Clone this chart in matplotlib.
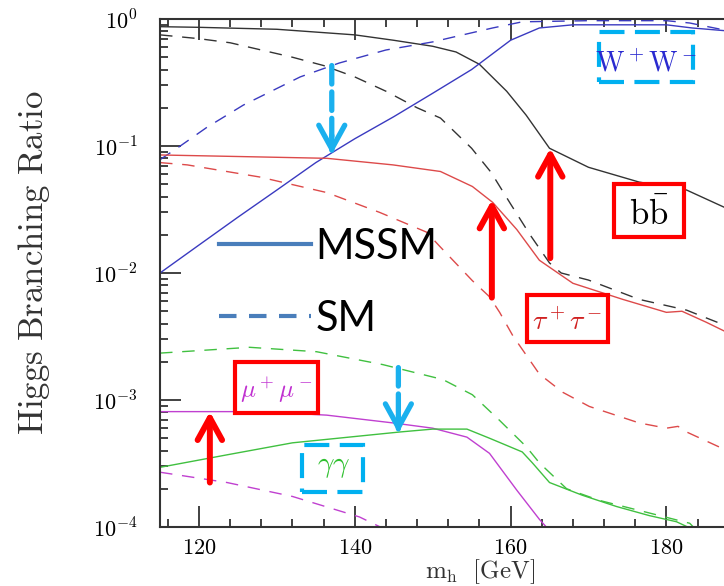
import matplotlib
matplotlib.use("Agg")
import matplotlib.pyplot as plt
from matplotlib.lines import Line2D
from matplotlib.patches import Rectangle
from matplotlib.ticker import MultipleLocator, LogLocator, FuncFormatter, NullFormatter
import numpy as np

plt.rcParams['mathtext.fontset'] = 'cm'

# Higgs mass points [GeV] and branching ratios
m_bb_mssm = [115, 120, 130, 140, 145, 150, 153, 156, 159.5, 162, 165, 170, 176.5, 182.6, 187.4]
br_bb_mssm = [0.87, 0.86, 0.83, 0.75, 0.68, 0.61, 0.55, 0.44, 0.27, 0.175, 0.096, 0.068, 0.052, 0.045, 0.033]

m_bb_sm = [115, 120, 124, 128, 132, 136, 140, 144, 148, 151, 155, 157.5, 160, 162.5, 165, 166.5, 170, 176.5, 182.6, 187.4]
br_bb_sm = [0.75, 0.70, 0.65, 0.57, 0.50, 0.43, 0.35, 0.27, 0.20, 0.166, 0.096, 0.062, 0.035, 0.020, 0.012, 0.010,
            0.0088, 0.0062, 0.0051, 0.0039]

m_ww_mssm = [115, 120, 125, 130, 135, 140, 145, 150, 155, 158, 160, 163.7, 168, 175, 180, 183.3, 187.4]
br_ww_mssm = [0.010, 0.0166, 0.0275, 0.045, 0.074, 0.114, 0.17, 0.26, 0.40, 0.55, 0.68, 0.85, 0.90, 0.90, 0.90,
              0.85, 0.81]

m_ww_sm = [115, 117.6, 121, 125.7, 133, 138, 144, 150, 152.2, 157.7, 161.5, 170, 180, 183, 187.4]
br_ww_sm = [0.078, 0.10, 0.14, 0.21, 0.35, 0.45, 0.57, 0.66, 0.71, 0.85, 0.95, 0.97, 0.97, 0.93, 0.82]

m_tau_mssm = [115, 127.8, 136.4, 144.9, 151, 155.1, 157.7, 160.8, 163.7, 168, 174.4, 180, 182, 185.1, 187.4]
br_tau_mssm = [0.085, 0.082, 0.080, 0.071, 0.063, 0.048, 0.036, 0.022, 0.0126, 0.0083, 0.0062, 0.0049, 0.0050,
               0.0041, 0.0035]

m_tau_sm = [115, 118.5, 127.8, 136.4, 143.2, 149.2, 151, 155.1, 157.3, 158.6, 160.3, 163.7, 166.7, 170.1, 176.5,
            180, 181.5, 182.6, 187.4]
br_tau_sm = [0.074, 0.071, 0.057, 0.043, 0.030, 0.021, 0.016, 0.0087, 0.0065, 0.0049, 0.0032, 0.0016, 0.00115,
             0.00089, 0.00066, 0.0006, 0.00062, 0.00056, 0.00041]

m_mu_mssm = [115, 128, 136.4, 144.9, 150, 154.4, 157.3, 160.8, 163.7, 166]
br_mu_mssm = [0.00081, 0.00081, 0.00076, 0.00066, 0.0006, 0.00051, 0.00038, 0.000195, 0.000115, 0.00008]

m_mu_sm = [115, 123.6, 132, 140.6, 145]
br_mu_sm = [0.00027, 0.000224, 0.000174, 0.00012, 0.000089]

m_gam_mssm = [115, 123.6, 132, 140.6, 145.8, 150, 154.4, 157.3, 161.5, 162.8, 165, 169.2, 173.6, 177.8, 181.3, 184.5]
br_gam_mssm = [0.000295, 0.00037, 0.00046, 0.00052, 0.00056, 0.00059, 0.00059, 0.0005, 0.00039, 0.00032, 0.000224,
               0.000178, 0.000145, 0.000123, 0.00011, 0.000089]

m_gam_sm = [115, 126.5, 135.1, 143.6, 151.3, 155.1, 158.6, 162, 163.7, 167.2, 171.4, 177.8, 183, 185]
br_gam_sm = [0.00234, 0.0026, 0.0024, 0.0019, 0.00145, 0.0011, 0.00069, 0.00043, 0.00032, 0.0002, 0.000162,
             0.000129, 0.000107, 0.00008]

# channel labels: text, mass, BR (box centre), text colour, box colour, dashed box?
label_txt = [r'$\mathrm{W^+W^-}$', r'$\mathrm{b\bar{b}}$', r'$\tau^+\tau^-$', r'$\mu^+\mu^-$', r'$\gamma\gamma$']
label_m = [177.4, 177.8, 167.3, 129.9, 137.2]
label_br = [0.50, 0.031, 0.0044, 0.00126, 0.00029]
label_col = ['#2a2ad0', 'black', '#d02020', '#c030d0', '#30c030']
box_col = ['#00b0f0', '#ff0000', '#ff0000', '#ff0000', '#00b0f0']
box_dashed = [True, False, False, False, True]
label_size = [20, 25, 20, 18, 21]
label_dy = [6, 4, 4, 3, -2]    # text shift inside box, pixels down
box_w = [94, 70, 81, 83, 61]   # pixels
box_h = [50, 53, 47, 51, 47]

# arrows: (mass, BR start, BR tip)
red_arrows = [(121.4, 0.000224, 0.00081), (157.6, 0.0064, 0.0376), (165.1, 0.0131, 0.096)]
blue_arrows = [(137.05, 0.43, 0.086), (145.6, 0.0018, 0.00055)]

fig = plt.figure(figsize=(7.24, 5.86), dpi=100)
ax = fig.add_axes([160/724, 59/586, 564/724, 508/586])
AW, AH = 564.0, 508.0

dash = (0, (9, 7))
curves = [
    (m_bb_mssm, br_bb_mssm, '#333333', '-'), (m_bb_sm, br_bb_sm, '#333333', dash),
    (m_ww_mssm, br_ww_mssm, '#3a3ac0', '-'), (m_ww_sm, br_ww_sm, '#3a3ac0', dash),
    (m_tau_mssm, br_tau_mssm, '#dd4a4a', '-'), (m_tau_sm, br_tau_sm, '#dd4a4a', dash),
    (m_mu_mssm, br_mu_mssm, '#c040d0', '-'), (m_mu_sm, br_mu_sm, '#c040d0', dash),
    (m_gam_mssm, br_gam_mssm, '#40c040', '-'), (m_gam_sm, br_gam_sm, '#40c040', dash),
]
for m, br, c, ls in curves:
    ax.plot(m, br, color=c, ls=ls, lw=1.0)

ax.set_yscale('log')
ax.set_xlim(115, 187.4)
ax.set_ylim(1e-4, 1)

ax.xaxis.set_major_locator(MultipleLocator(20))
ax.xaxis.set_minor_locator(MultipleLocator(4))
ax.yaxis.set_major_locator(LogLocator(base=10))
ax.yaxis.set_minor_locator(LogLocator(base=10, subs=np.arange(2, 10)))
ax.yaxis.set_minor_formatter(NullFormatter())
ax.yaxis.set_major_formatter(FuncFormatter(lambda v, p: r'$10^{%d}$' % round(np.log10(v))))
ax.xaxis.set_major_formatter(FuncFormatter(lambda v, p: r'$\mathrm{%d}$' % v))

ax.tick_params(which='both', direction='in', top=True, right=False, color='#333333', width=1.3)
ax.tick_params(which='major', length=15)
ax.tick_params(which='minor', length=5.5)
ax.tick_params(axis='y', which='major', pad=16, labelsize=16)
ax.tick_params(axis='x', which='major', pad=8, labelsize=16)
for s in ['left', 'top', 'bottom']:
    ax.spines[s].set_linewidth(1.5)
    ax.spines[s].set_color('#333333')
ax.spines['right'].set_visible(False)

ax.set_ylabel(r'$\mathrm{Higgs\ Branching\ Ratio}$', fontsize=25, color='#333333')
ax.yaxis.set_label_coords(-0.192, 0.52)
ax.set_xlabel(r'$\mathrm{m_h\ \ [GeV]}$', fontsize=18, color='#333333')
ax.xaxis.set_label_coords(0.567, -0.059)

for i in range(len(label_txt)):
    xa = (label_m[i] - 115) / 72.4
    ya = (np.log10(label_br[i]) + 4) / 4
    w, h = box_w[i] / AW, box_h[i] / AH
    ax.add_patch(Rectangle((xa - w / 2, ya - h / 2), w, h, transform=ax.transAxes, fc='white',
                           ec=box_col[i], lw=3, ls=(0, (6, 2.5)) if box_dashed[i] else '-',
                           zorder=4, clip_on=False))
    ax.text(xa, ya - label_dy[i] / AH, label_txt[i], transform=ax.transAxes, color=label_col[i],
            fontsize=label_size[i], ha='center', va='center', zorder=5)

for m, y0, y1 in red_arrows:
    ax.annotate('', xy=(m, y1), xytext=(m, y0),
                arrowprops=dict(arrowstyle='->,head_length=1.0,head_width=0.55', color='#ff0000',
                                lw=4.3, shrinkA=0, shrinkB=0, mutation_scale=16))

for m, y0, y1 in blue_arrows:
    ax.annotate('', xy=(m, y1), xytext=(m, y0),
                arrowprops=dict(arrowstyle='-', color='#1ab0ee', lw=3.8, ls=(0, (3.5, 1.5)),
                                shrinkA=0, shrinkB=3))
    ax.annotate('', xy=(m, y1), xytext=(m, y1 * 10 ** 0.15),
                arrowprops=dict(arrowstyle='->,head_length=1.0,head_width=0.55', color='#1ab0ee',
                                lw=3.8, shrinkA=0, shrinkB=0, mutation_scale=17))

handles = [Line2D([], [], color='#4a7ebb', lw=3, label='MSSM'),
           Line2D([], [], color='#4a7ebb', lw=3, ls=(0, (4.2, 3)), label='SM')]
ax.legend(handles=handles, loc='center left', bbox_to_anchor=(0.1046, 0.481), frameon=False,
          prop={'family': 'Lato', 'size': 30}, handlelength=2.2, handletextpad=0.12,
          labelspacing=0.81, borderpad=0, borderaxespad=0)

fig.savefig('out.png', dpi=100)
